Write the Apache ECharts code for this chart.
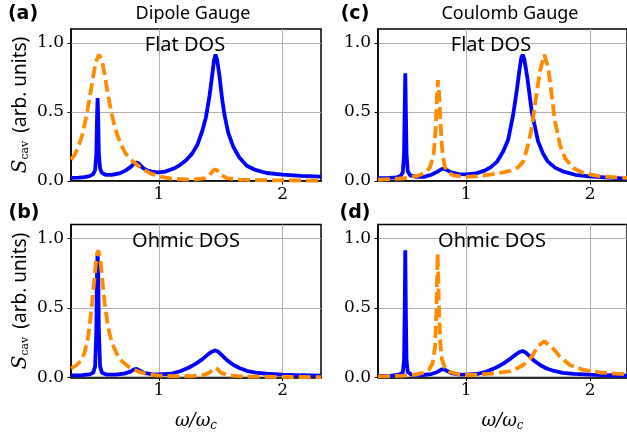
<!DOCTYPE html>
<html>
<head>
<meta charset="utf-8">
<script src="https://cdn.jsdelivr.net/npm/echarts@6/dist/echarts.min.js"></script>
<style>
  html, body { margin: 0; padding: 0; background: #fff; }
  #main { width: 627px; height: 438px; }
</style>
</head>
<body>
<div id="main"></div>
<script>
// tick values shared by all panels
const xTicks = [1, 2];
const yTicks = [0, 0.5, 1.0];
const panelLetters = ['(a)', '(b)', '(c)', '(d)'];
const gaugeTitles = ['Dipole Gauge', 'Coulomb Gauge'];
const dosLabels = ['Flat DOS', 'Ohmic DOS'];

// (a) dipole gauge, flat DOS  -- [omega/omega_c, S_cav]
const dipoleFlatBlue = [
  [0.29, 0.022], [0.35, 0.024], [0.40, 0.028], [0.44, 0.035], [0.47, 0.05], [0.485, 0.08],
  [0.495, 0.2], [0.50, 0.45], [0.505, 0.6], [0.51, 0.45], [0.515, 0.2], [0.525, 0.09],
  [0.54, 0.058], [0.57, 0.045], [0.62, 0.045], [0.68, 0.055], [0.73, 0.075], [0.77, 0.1],
  [0.80, 0.125], [0.82, 0.135], [0.84, 0.125], [0.87, 0.095], [0.91, 0.075], [0.96, 0.065],
  [1.0, 0.063], [1.05, 0.068], [1.12, 0.09], [1.17, 0.115], [1.22, 0.15], [1.27, 0.2],
  [1.31, 0.26], [1.35, 0.36], [1.38, 0.46], [1.41, 0.62], [1.43, 0.76], [1.445, 0.87],
  [1.457, 0.915], [1.47, 0.88], [1.49, 0.76], [1.51, 0.6], [1.53, 0.48], [1.56, 0.35],
  [1.60, 0.25], [1.65, 0.17], [1.71, 0.11], [1.78, 0.08], [1.87, 0.058], [2.0, 0.046],
  [2.15, 0.037], [2.31, 0.031]
];
const dipoleFlatOrange = [
  [0.29, 0.155], [0.32, 0.19], [0.35, 0.25], [0.38, 0.33], [0.41, 0.45], [0.44, 0.6],
  [0.47, 0.76], [0.49, 0.86], [0.516, 0.915], [0.54, 0.87], [0.56, 0.78], [0.59, 0.62],
  [0.62, 0.48], [0.65, 0.37], [0.69, 0.27], [0.73, 0.2], [0.78, 0.15], [0.82, 0.12],
  [0.87, 0.085], [0.93, 0.055], [1.0, 0.034], [1.1, 0.018], [1.2, 0.011], [1.3, 0.012],
  [1.37, 0.02], [1.41, 0.045], [1.44, 0.075], [1.457, 0.085], [1.475, 0.075], [1.5, 0.045],
  [1.55, 0.02], [1.65, 0.01], [1.8, 0.006], [2.0, 0.004], [2.31, 0.003]
];

// (b) dipole gauge, ohmic DOS
const dipoleOhmicBlue = [
  [0.29, 0.015], [0.38, 0.017], [0.44, 0.022], [0.47, 0.035], [0.485, 0.08], [0.495, 0.35],
  [0.50, 0.75], [0.505, 0.9], [0.51, 0.75], [0.515, 0.35], [0.525, 0.08], [0.54, 0.035],
  [0.58, 0.02], [0.65, 0.02], [0.72, 0.028], [0.77, 0.042], [0.80, 0.058], [0.82, 0.062],
  [0.84, 0.052], [0.88, 0.033], [0.94, 0.024], [1.0, 0.022], [1.1, 0.027], [1.17, 0.045],
  [1.24, 0.07], [1.30, 0.1], [1.35, 0.13], [1.40, 0.168], [1.43, 0.187], [1.457, 0.195],
  [1.48, 0.185], [1.51, 0.16], [1.55, 0.125], [1.60, 0.092], [1.65, 0.068], [1.71, 0.048],
  [1.78, 0.035], [1.87, 0.027], [2.0, 0.02], [2.15, 0.016], [2.31, 0.014]
];
const dipoleOhmicOrange = [
  [0.29, 0.065], [0.33, 0.085], [0.37, 0.12], [0.40, 0.18], [0.43, 0.3], [0.46, 0.53],
  [0.48, 0.72], [0.495, 0.86], [0.51, 0.915], [0.525, 0.86], [0.54, 0.73], [0.56, 0.55],
  [0.59, 0.36], [0.62, 0.25], [0.66, 0.17], [0.70, 0.12], [0.75, 0.08], [0.80, 0.055],
  [0.86, 0.035], [0.93, 0.02], [1.0, 0.014], [1.1, 0.01], [1.25, 0.01], [1.35, 0.015],
  [1.41, 0.035], [1.44, 0.06], [1.457, 0.07], [1.475, 0.06], [1.5, 0.035], [1.56, 0.015],
  [1.7, 0.007], [2.0, 0.004], [2.31, 0.003]
];

// (c) Coulomb gauge, flat DOS
const coulombFlatBlue = [
  [0.29, 0.02], [0.38, 0.022], [0.44, 0.027], [0.47, 0.035], [0.49, 0.06], [0.50, 0.2],
  [0.505, 0.5], [0.51, 0.78], [0.515, 0.5], [0.52, 0.2], [0.53, 0.07], [0.55, 0.04],
  [0.60, 0.03], [0.66, 0.03], [0.72, 0.045], [0.77, 0.068], [0.80, 0.085], [0.82, 0.09],
  [0.84, 0.082], [0.88, 0.062], [0.94, 0.05], [1.0, 0.048], [1.08, 0.055], [1.15, 0.075],
  [1.20, 0.1], [1.25, 0.14], [1.30, 0.215], [1.34, 0.3], [1.38, 0.48], [1.41, 0.66],
  [1.43, 0.8], [1.445, 0.89], [1.457, 0.915], [1.47, 0.88], [1.494, 0.75], [1.53, 0.5],
  [1.58, 0.29], [1.62, 0.2], [1.66, 0.14], [1.72, 0.095], [1.78, 0.07], [1.88, 0.045],
  [1.99, 0.034], [2.15, 0.024], [2.31, 0.017]
];
const coulombFlatOrange = [
  [0.29, 0.01], [0.40, 0.014], [0.50, 0.02], [0.60, 0.035], [0.67, 0.06], [0.71, 0.1],
  [0.74, 0.2], [0.755, 0.38], [0.765, 0.6], [0.774, 0.73], [0.785, 0.6], [0.795, 0.4],
  [0.81, 0.2], [0.83, 0.1], [0.86, 0.06], [0.90, 0.04], [1.0, 0.03], [1.1, 0.035],
  [1.19, 0.046], [1.28, 0.058], [1.36, 0.075], [1.42, 0.1], [1.462, 0.142], [1.50, 0.26],
  [1.529, 0.384], [1.556, 0.553], [1.596, 0.795], [1.631, 0.915], [1.663, 0.819], [1.69, 0.626],
  [1.717, 0.432], [1.757, 0.263], [1.797, 0.167], [1.864, 0.094], [1.945, 0.058], [2.08, 0.034],
  [2.31, 0.022]
];

// (d) Coulomb gauge, ohmic DOS
const coulombOhmicBlue = [
  [0.29, 0.012], [0.40, 0.014], [0.46, 0.02], [0.49, 0.035], [0.50, 0.12], [0.505, 0.45],
  [0.51, 0.915], [0.515, 0.45], [0.52, 0.12], [0.53, 0.04], [0.56, 0.02], [0.65, 0.018],
  [0.72, 0.025], [0.77, 0.04], [0.80, 0.056], [0.82, 0.06], [0.84, 0.05], [0.88, 0.032],
  [0.94, 0.023], [1.0, 0.021], [1.1, 0.027], [1.17, 0.045], [1.24, 0.07], [1.30, 0.1],
  [1.35, 0.13], [1.40, 0.165], [1.43, 0.183], [1.457, 0.19], [1.48, 0.18], [1.51, 0.155],
  [1.55, 0.12], [1.60, 0.088], [1.65, 0.065], [1.71, 0.047], [1.78, 0.034], [1.87, 0.026],
  [2.0, 0.02], [2.15, 0.016], [2.31, 0.014]
];
const coulombOhmicOrange = [
  [0.29, 0.008], [0.40, 0.01], [0.50, 0.014], [0.60, 0.022], [0.66, 0.035], [0.70, 0.055],
  [0.73, 0.1], [0.75, 0.22], [0.76, 0.45], [0.771, 0.89], [0.782, 0.5], [0.792, 0.25],
  [0.805, 0.13], [0.83, 0.07], [0.87, 0.04], [0.93, 0.025], [1.0, 0.018], [1.1, 0.02],
  [1.2, 0.028], [1.3, 0.038], [1.36, 0.045], [1.42, 0.07], [1.462, 0.09], [1.53, 0.15],
  [1.58, 0.225], [1.631, 0.26], [1.70, 0.21], [1.757, 0.15], [1.837, 0.09], [1.945, 0.055],
  [2.08, 0.036], [2.31, 0.022]
];

const panels = [
  { blue: dipoleFlatBlue, orange: dipoleFlatOrange },
  { blue: dipoleOhmicBlue, orange: dipoleOhmicOrange },
  { blue: coulombFlatBlue, orange: coulombFlatOrange },
  { blue: coulombOhmicBlue, orange: coulombOhmicOrange }
];

const grids = [
  { left: 71, top: 29, width: 250, height: 152 },
  { left: 71, top: 224.5, width: 250, height: 153 },
  { left: 378, top: 29, width: 249, height: 152 },
  { left: 378, top: 224.5, width: 249, height: 153 }
];

const serif = '"DejaVu Serif", serif';
const sans = '"Noto Sans", sans-serif';

const chart = echarts.init(document.getElementById('main'), null, { renderer: 'canvas' });

const option = {
  animation: false,
  backgroundColor: '#ffffff',
  grid: grids.map(g => Object.assign({
    show: true, borderColor: '#000', borderWidth: 1.5, backgroundColor: 'transparent', containLabel: false
  }, g)),
  xAxis: grids.map((g, i) => ({
    type: 'value',
    gridIndex: i,
    min: 0.29,
    max: i < 2 ? 2.31 : 2.298,
    name: (i === 1 || i === 3) ? '{w|ω/ω}{sub|c}' : '',
    nameLocation: 'middle',
    nameGap: 34,
    nameTextStyle: {
      rich: {
        w: { fontFamily: serif, fontStyle: 'italic', fontSize: 18, color: '#000' },
        sub: { fontFamily: serif, fontStyle: 'italic', fontSize: 12, color: '#000', verticalAlign: 'bottom', padding: [8, 0, 0, 0] }
      }
    },
    axisLine: { show: true, lineStyle: { color: '#000', width: 1.5 } },
    axisTick: { show: true, length: 3.5, lineStyle: { color: '#000', width: 1 }, customValues: xTicks },
    axisLabel: { customValues: xTicks, margin: 5, color: '#000', fontFamily: serif, fontSize: 17 },
    splitLine: { show: true, lineStyle: { color: '#b0b0b0', width: 1 } }
  })),
  yAxis: grids.map((g, i) => ({
    type: 'value',
    gridIndex: i,
    min: 0,
    max: 1.1,
    name: i < 2 ? '{s|S}{sub|cav}{gap| }{t|(arb. units)}' : '',
    nameLocation: 'middle',
    nameRotate: 90,
    nameGap: 40,
    nameTextStyle: {
      rich: {
        s: { fontFamily: serif, fontStyle: 'italic', fontSize: 20, color: '#000' },
        sub: { fontFamily: serif, fontSize: 11, color: '#000', verticalAlign: 'bottom', padding: [9, 0, 0, 0] },
        gap: { fontSize: 18, width: 8 },
        t: { fontFamily: sans, fontSize: 19, color: '#000' }
      }
    },
    axisLine: { show: true, lineStyle: { color: '#000', width: 1.5 } },
    axisTick: { show: true, length: 3.5, lineStyle: { color: '#000', width: 1 }, customValues: yTicks },
    axisLabel: {
      customValues: yTicks, margin: 7, color: '#000', fontFamily: serif, fontSize: 17,
      formatter: v => v.toFixed(1)
    },
    splitLine: { show: true, lineStyle: { color: '#b0b0b0', width: 1 } }
  })),
  series: panels.flatMap((p, i) => [
    {
      type: 'line', xAxisIndex: i, yAxisIndex: i, data: p.blue,
      symbol: 'none', clip: true, z: 2,
      lineStyle: { color: '#0000ff', width: 3.8 }
    },
    {
      type: 'line', xAxisIndex: i, yAxisIndex: i, data: p.orange,
      symbol: 'none', clip: true, z: 3,
      lineStyle: { color: '#ff8c00', width: 3.8, type: [12, 5] }
    }
  ]),
  graphic: [
    // gauge titles
    { type: 'text', x: 193, y: 14, style: { text: gaugeTitles[0], font: '18px ' + sans, fill: '#000', align: 'center', verticalAlign: 'middle' } },
    { type: 'text', x: 510, y: 14, style: { text: gaugeTitles[1], font: '18px ' + sans, fill: '#000', align: 'center', verticalAlign: 'middle' } },
    // panel letters
    { type: 'text', x: 23, y: 14, style: { text: panelLetters[0], font: 'bold 19px "DejaVu Sans", sans-serif', fill: '#000', align: 'center', verticalAlign: 'middle' } },
    { type: 'text', x: 24, y: 213, style: { text: panelLetters[1], font: 'bold 19px "DejaVu Sans", sans-serif', fill: '#000', align: 'center', verticalAlign: 'middle' } },
    { type: 'text', x: 355, y: 14, style: { text: panelLetters[2], font: 'bold 19px "DejaVu Sans", sans-serif', fill: '#000', align: 'center', verticalAlign: 'middle' } },
    { type: 'text', x: 355, y: 213, style: { text: panelLetters[3], font: 'bold 19px "DejaVu Sans", sans-serif', fill: '#000', align: 'center', verticalAlign: 'middle' } },
    // DOS labels inside panels
    { type: 'text', x: 185, y: 45, z: 10, style: { text: dosLabels[0], font: '20px ' + sans, fill: '#000', align: 'center', verticalAlign: 'middle' } },
    { type: 'text', x: 186, y: 241, z: 10, style: { text: dosLabels[1], font: '20px ' + sans, fill: '#000', align: 'center', verticalAlign: 'middle' } },
    { type: 'text', x: 491, y: 45, z: 10, style: { text: dosLabels[0], font: '20px ' + sans, fill: '#000', align: 'center', verticalAlign: 'middle' } },
    { type: 'text', x: 492, y: 241, z: 10, style: { text: dosLabels[1], font: '20px ' + sans, fill: '#000', align: 'center', verticalAlign: 'middle' } }
  ]
};

chart.setOption(option);
</script>
</body>
</html>
